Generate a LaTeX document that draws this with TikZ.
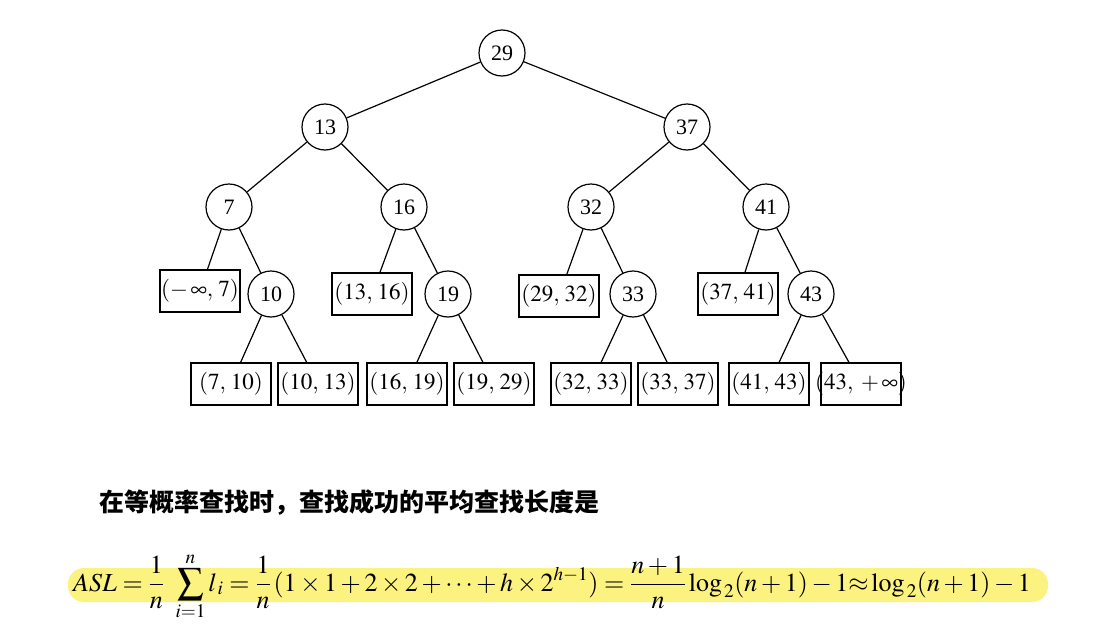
\documentclass[tikz,border=0pt]{standalone}
\usepackage{amsmath}
\usepackage{mathptmx}
\usepackage[no-math]{fontspec}
\setmainfont{Liberation Serif}
\newfontfamily\cjk{Noto Sans CJK SC}
\usetikzlibrary{positioning}
\definecolor{hlyellow}{RGB}{252,242,128}
\tikzset{
  key/.style={circle,draw,line width=1.2pt,minimum size=46pt,inner sep=0pt,
              font=\fontsize{22}{24}\selectfont},
  gap/.style={rectangle,draw,line width=1.2pt,minimum width=80pt,
              minimum height=42pt,inner sep=0pt,font=\fontsize{23}{25}\selectfont},
  br/.style={line width=1.2pt},
}

\begin{document}
\begin{tikzpicture}[x=1pt,y=-1pt]
    \useasboundingbox (0,0) rectangle (1098,640);
    % internal nodes
    \node[key] (n29) at (502,53) {29};
    \node[key] (n13) at (325,127) {13};
    \node[key] (n37) at (687,127) {37};
    \node[key] (n7)  at (229,207) {7};
    \node[key] (n16) at (404,207) {16};
    \node[key] (n32) at (591,207) {32};
    \node[key] (n41) at (766,207) {41};
    \node[key] (n10) at (271,294) {10};
    \node[key] (n19) at (448,294) {19};
    \node[key] (n33) at (633,294) {33};
    \node[key] (n43) at (811,294) {43};
    % failure intervals
    \node[gap] (gm7)   at (200,291) {$(-\,\infty,\,7)$};
    \node[gap] (g1316) at (372,294) {$(13,\,16)$};
    \node[gap] (g2932) at (559,296) {$(29,\,32)$};
    \node[gap] (g3741) at (738,294) {$(37,\,41)$};
    \node[gap] (g710)  at (231,384) {$(7,\,10)$};
    \node[gap] (g1013) at (318,384) {$(10,\,13)$};
    \node[gap] (g1619) at (407,384) {$(16,\,19)$};
    \node[gap] (g1929) at (494,384) {$(19,\,29)$};
    \node[gap] (g3233) at (591,384) {$(32,\,33)$};
    \node[gap] (g3337) at (678,384) {$(33,\,37)$};
    \node[gap] (g4143) at (769,384) {$(41,\,43)$};
    \node[gap] (g43p)  at (861,384) {};
    \node[font=\fontsize{23}{25}\selectfont] at (g43p) {$(43,\;+\,\infty)$};
    % branches
    \draw[br] (n29) -- (n13);
    \draw[br] (n29) -- (n37);
    \draw[br] (n13) -- (n7);
    \draw[br] (n13) -- (n16);
    \draw[br] (n37) -- (n32);
    \draw[br] (n37) -- (n41);
    \draw[br] (n7) -- (gm7);
    \draw[br] (n7) -- (n10);
    \draw[br] (n16) -- (g1316);
    \draw[br] (n16) -- (n19);
    \draw[br] (n32) -- (g2932);
    \draw[br] (n32) -- (n33);
    \draw[br] (n41) -- (g3741);
    \draw[br] (n41) -- (n43);
    \draw[br] (n10) -- (g710);
    \draw[br] (n10) -- (g1013);
    \draw[br] (n19) -- (g1619);
    \draw[br] (n19) -- (g1929);
    \draw[br] (n33) -- (g3233);
    \draw[br] (n33) -- (g3337);
    \draw[br] (n43) -- (g4143);
    \draw[br] (n43) -- (g43p);
    % text and formula
    \node[anchor=west,font=\fontsize{25}{27}\selectfont\cjk\bfseries] (say) at (96,503)
      {在等概率查找时，查找成功的平均查找长度是};
    \node[fill=hlyellow,rounded corners=16pt,minimum width=980pt,minimum height=34pt] (hl)
      at (558,585) {};
    \node[anchor=base west,inner sep=0pt,font=\fontsize{26}{28}\selectfont] (asl) at (73,591)
      {$\displaystyle ASL=\frac{1}{n}\;\,\sum_{i=1}^{n}l_{\,i}=\frac{1}{n}\,(1\times1+2\times2+\cdots+h\times2^{h-1})
        =\frac{n+1}{n}\log_{\,2}(n+1)-1{\approx}\log_{\,2}(n+1)-1$};
\end{tikzpicture}
\end{document}
